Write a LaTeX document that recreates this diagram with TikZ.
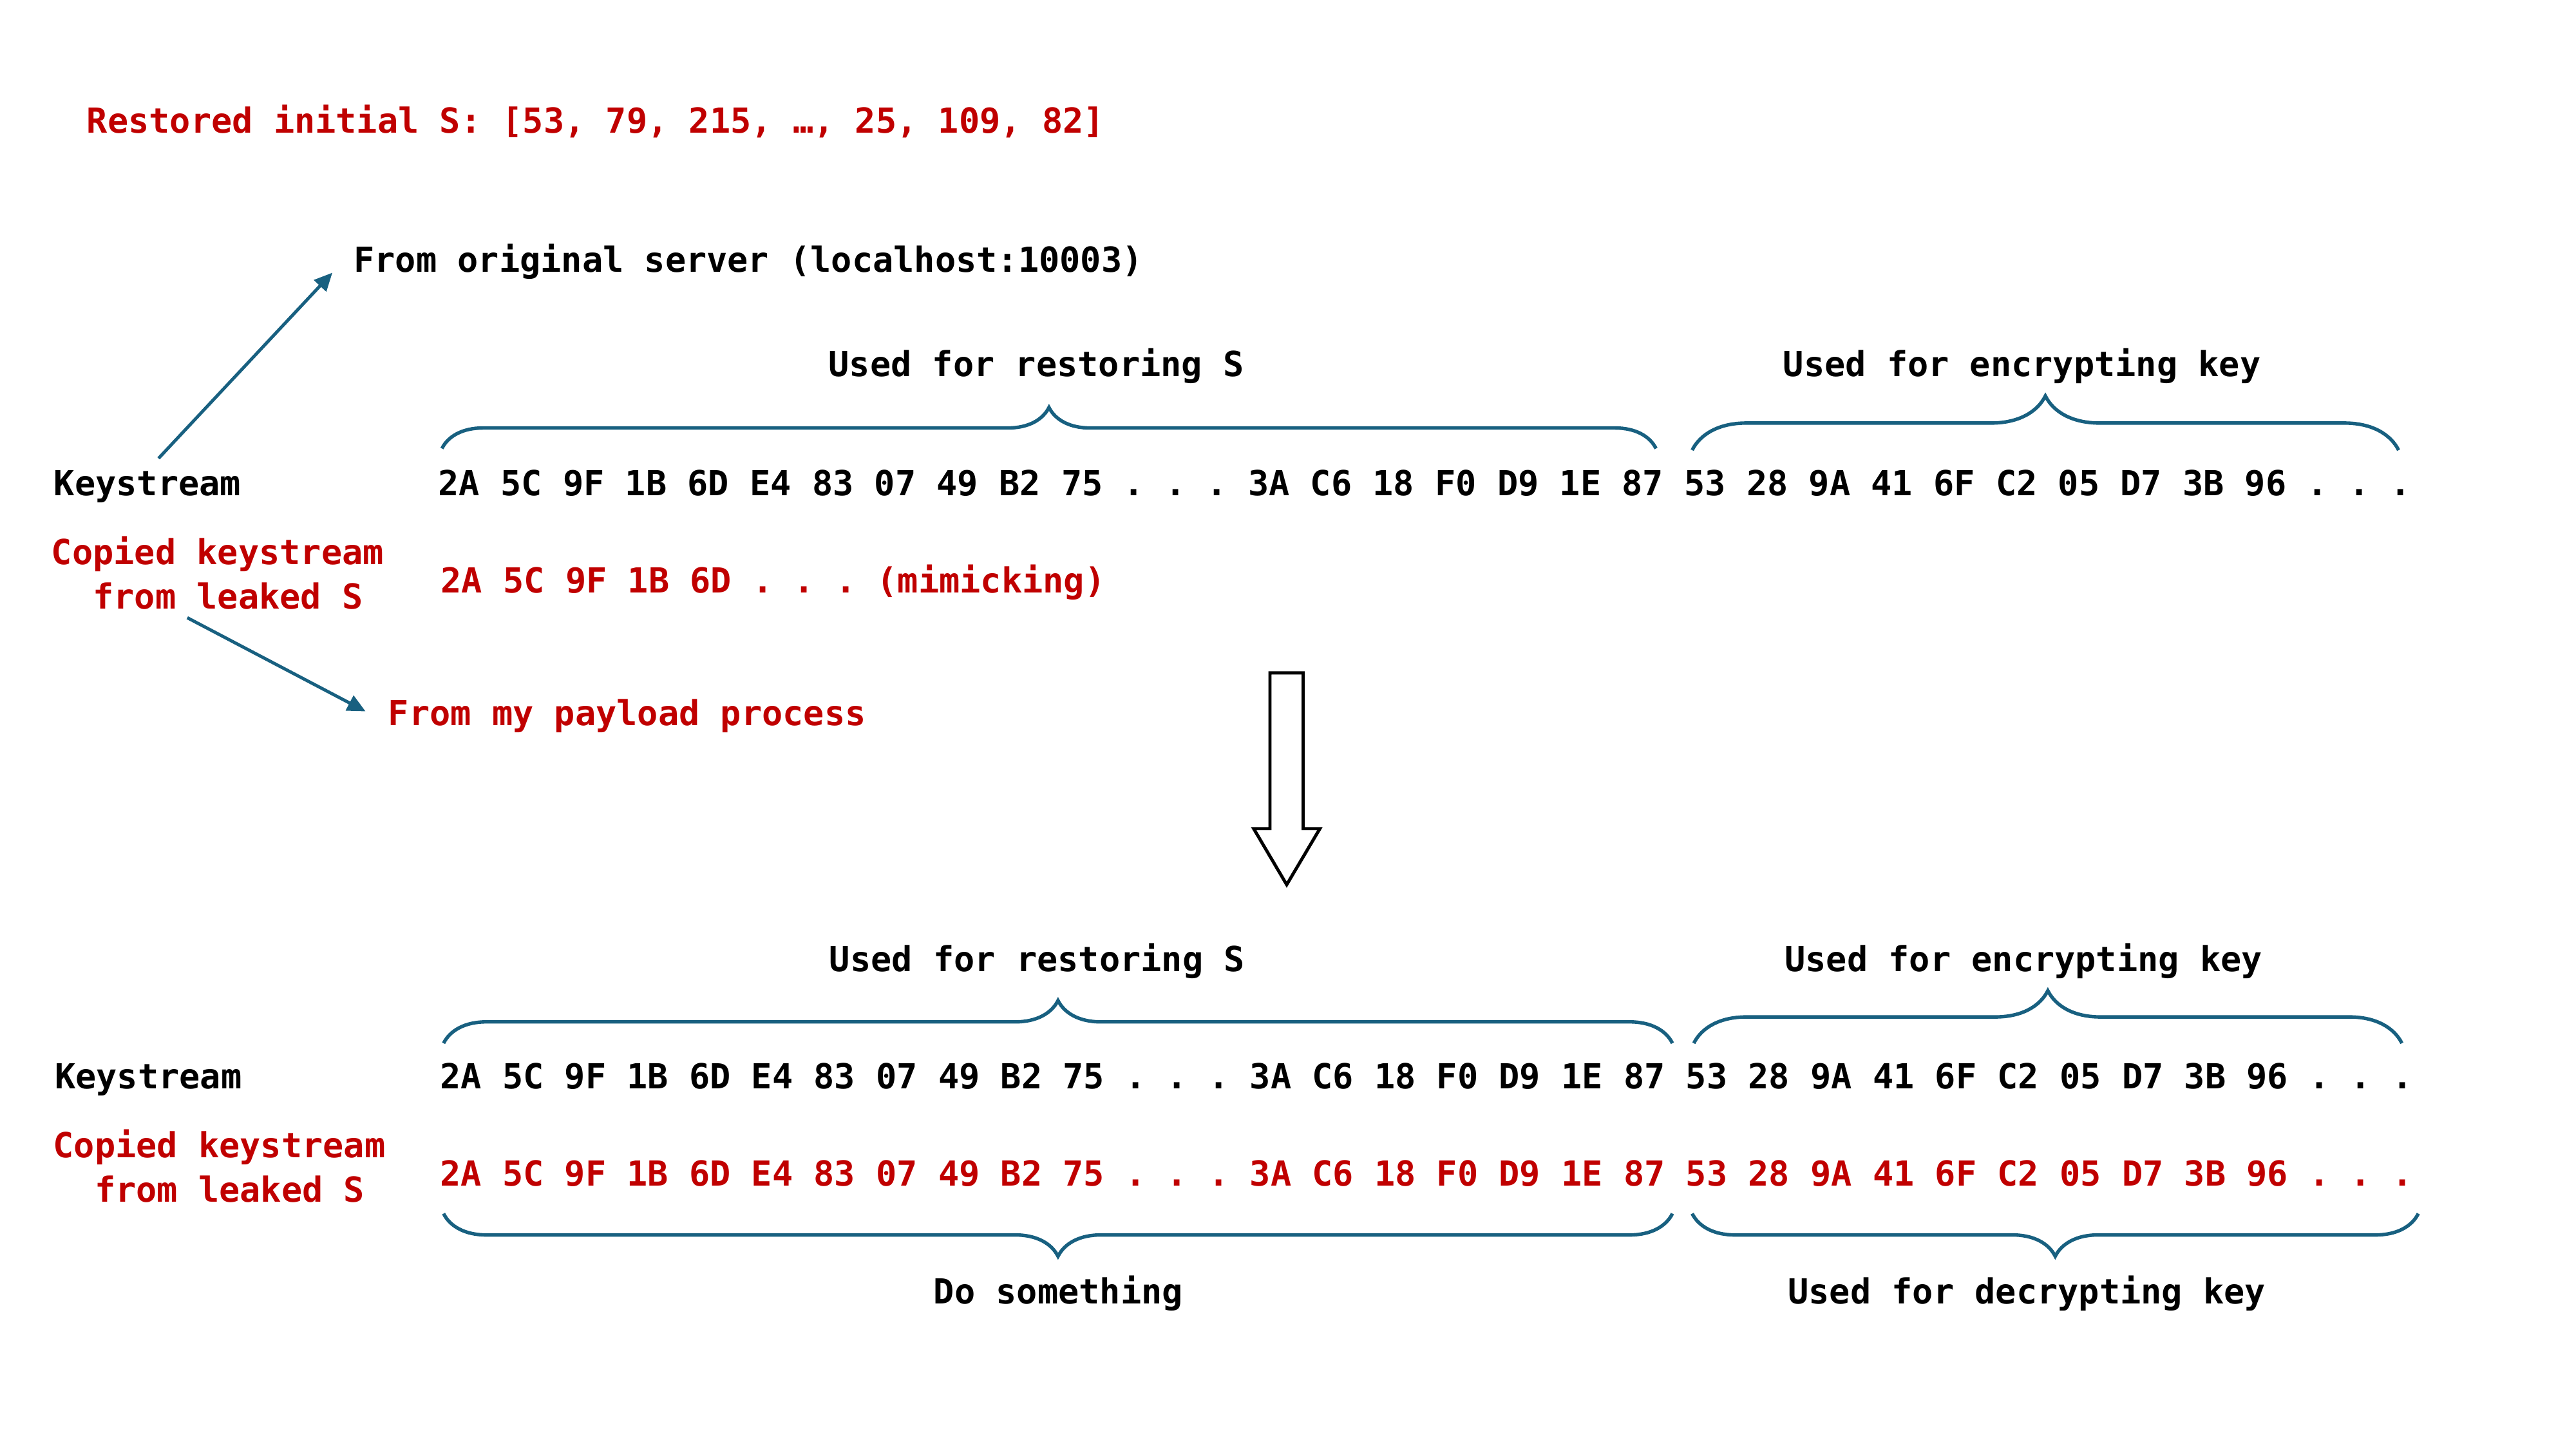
\documentclass[tikz,border=0pt]{standalone}
\usepackage{fontspec}
\setmonofont{DejaVu Sans Mono}
\usepackage{tikz}
\usetikzlibrary{decorations.pathreplacing,arrows.meta}
\definecolor{keyred}{RGB}{192,0,0}
\definecolor{keyblue}{RGB}{24,96,128}
\newcommand\hexrow{2A 5C 9F 1B 6D E4 83 07 49 B2 75 . . . 3A C6 18 F0 D9 1E 87 53 28 9A 41 6F C2 05 D7 3B 96 . . .}
\tikzset{
  txt/.style={anchor=base west, inner sep=0pt,
    font=\ttfamily\bfseries\fontsize{11.95}{15.4}\selectfont\frenchspacing},
  redtxt/.style={txt, text=keyred},
  keybrace/.style={draw=keyblue, line width=1.2pt, decorate,
    decoration={brace, amplitude=#1}},
  pointer/.style={draw=keyblue, line width=1.1pt,
    -{Triangle[length=0.22cm,width=0.2cm]}},
}

\begin{document}
\begin{tikzpicture}[x=0.02cm, y=-0.02cm]
    \useasboundingbox (0,0) rectangle (1568,882);
    % top half
    \node[redtxt] (restored) at (52.5,81) {Restored initial S: [53, 79, 215, …, 25, 109, 82]};
    \node[txt] (server) at (215,165.5) {From original server (localhost:10003)};
    \node[txt] (useA) at (504,229) {Used for restoring S};
    \node[txt] (encA) at (1085,229) {Used for encrypting key};
    \node[txt] (ksA) at (32.5,301.6) {Keystream};
    \node[txt] (hexA) at (266.5,301.6) {\hexrow};
    \node[redtxt, align=center] (copyA) at (31,370.5) {Copied keystream\phantom{x}\\from leaked S};
    \node[redtxt] (mimic) at (268,360.7) {2A 5C 9F 1B 6D . . . (mimicking)};
    \node[redtxt] (payload) at (236,441.5) {From my payload process};
    \coordinate (ksA-up) at (96.5,279);
    \coordinate (server-in) at (202.3,166);
    \coordinate (copyA-down) at (114,376);
    \coordinate (payload-in) at (222.5,433);
    \draw[pointer] (ksA-up) -- (server-in);
    \draw[pointer] (copyA-down) -- (payload-in);
    \draw[keybrace=0.5cm] (269,273) -- (1008,273);
    \draw[keybrace=0.66cm] (1030,274) -- (1460,274);
    % big arrow
    \draw[line width=1.1pt] (773,409.6) -- (793.2,409.6) -- (793.2,504.4)
      -- (803.4,504.4) -- (783.2,538.5) -- (763.1,504.4) -- (773,504.4) -- cycle;
    % bottom half
    \node[txt] (useB) at (504.5,591.5) {Used for restoring S};
    \node[txt] (encB) at (1086,591.5) {Used for encrypting key};
    \node[txt] (ksB) at (33,662.5) {Keystream};
    \node[txt] (hexB) at (267.5,662.5) {\hexrow};
    \node[redtxt, align=center] (copyB) at (32,731.5) {Copied keystream\phantom{x}\\from leaked S};
    \node[redtxt] (hexC) at (267.5,722) {\hexrow};
    \node[txt] (doB) at (568,793.5) {Do something};
    \node[txt] (decB) at (1088,793.5) {Used for decrypting key};
    \draw[keybrace=0.52cm] (270,635) -- (1018,635);
    \draw[keybrace=0.64cm] (1031,635) -- (1462,635);
    \draw[keybrace=0.52cm] (1018,738.7) -- (270,738.7);
    \draw[keybrace=0.52cm] (1472,738.7) -- (1030,738.7);
\end{tikzpicture}
\end{document}
